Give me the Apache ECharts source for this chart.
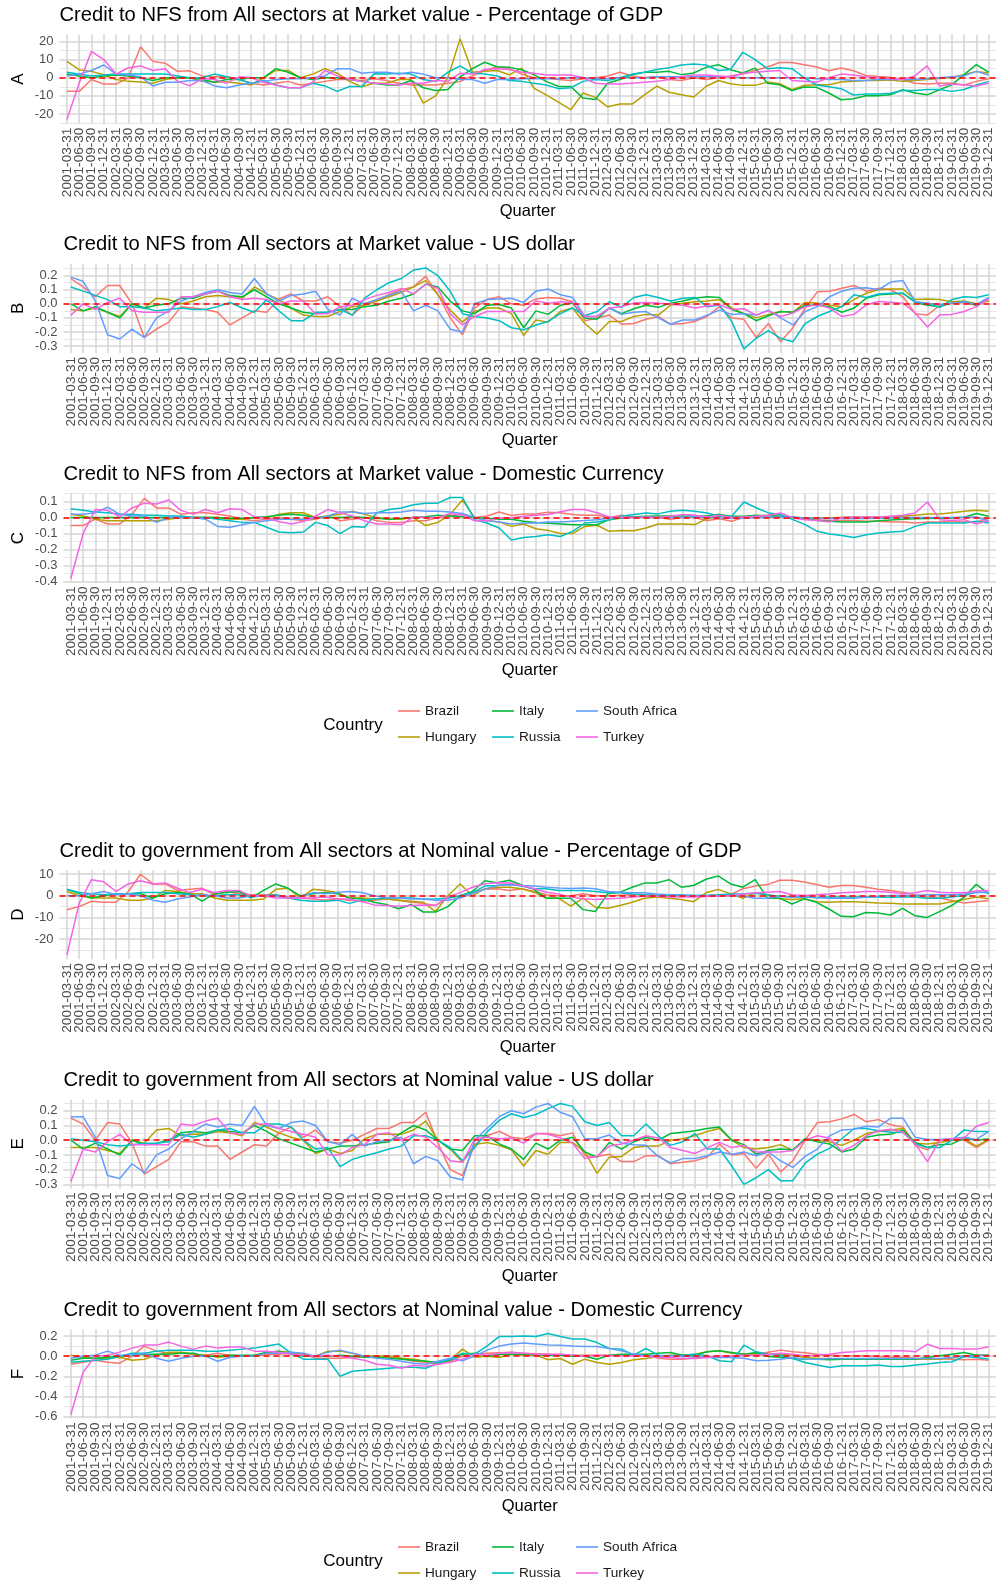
<!DOCTYPE html>
<html>
<head>
<meta charset="utf-8">
<script src="https://cdn.jsdelivr.net/npm/echarts@6/dist/echarts.min.js"></script>
<style>
  html, body { margin: 0; padding: 0; background: #fff; }
  #chart { width: 997px; height: 1581px; }
</style>
</head>
<body>
<div id="chart"></div>
<script>
var countries = ['Brazil', 'Hungary', 'Italy', 'Russia', 'South Africa', 'Turkey'];
var colors = ['#F8766D', '#B79F00', '#00BA38', '#00BFC4', '#619CFF', '#F564E3'];

// quarter end dates, 2001Q1 .. 2019Q4
var quarters = [];
for (var yr = 2001; yr <= 2019; yr++) {
    ['03-31', '06-30', '09-30', '12-31'].forEach(function (d) { quarters.push(yr + '-' + d); });
}

// A: credit to NFS, market value, % of GDP
var brazilA = [-7.5,-7.5,-1,-3.5,-3.5,0,17,9,8,3.5, 3.8,1,0.5,0.5,-1,-3,-4,-3,-2,-4, -3,-2,-1,-1,-1.5,-0.5,-1.5,-3,-4,-4, -4,-3,-2,1,4,6,5,2,0,0, -1,-1.5,-0.5,0,1,3,1,0,0.5,-1, -1.5,0,-1,0,1,2,4,5.9,8.4,8.4, 7.2,5.9,3.8,5.3,3.8,1.3,0.7,0.2,-1.1,-3, -3.5,-3,-3,-4,-2,-0.5];
var hungaryA = [9,4.4,3.5,1.6,-1,-2,-2.4,-3,-1,0, 0,-2,-2.4,-2.4,-3,-4,0,4,4,0, 2,5,2.5,-2,-5,-3,-3,-1,-1,-14, -10,0,21.5,3,3.5,4,1.6,5.3,-5.7,-9.4, -13.4,-17.6,-8.4,-10.8,-16,-14.5,-14.5,-9.4,-4.6,-8, -9.4,-10.6,-4.8,-1.5,-3.3,-4.2,-4.2,-2.4,-3.3,-6.6, -4.2,-3.9,-3.9,-2.4,-2,-1.5,-1.5,-1.3,-2,-1.5, -1,-0.4,0.2,1.7,3.5,2.6];
var italyA = [2,1,0,1,1.5,1,0,-1.5,0,0, 0,-1,-2.5,-1,-1,0,0,5,3,0, -1,0,0,-1,-2,-3,-4,-4,-1.5,-5.5, -7,-6.5,0.5,5,8.5,6,5.7,4.4,1.7,-2, -4.8,-4.8,-11.2,-12,-3,-1,1.7,3,3,3.5, 1.7,2.6,5.7,7.2,4.4,2.6,5.3,-3,-3.9,-7, -5.1,-5.3,-8.4,-12.1,-11.6,-9.9,-9.9,-9.4,-6.6,-8.4, -9.4,-6.6,-3.9,1.7,7.2,3.1];
var russiaA = [3,2,1,1.5,2,2,2,2,2,1, 0,0,2,0.5,-1,-3,-1.5,-4,-5.5,-5.5, -3,-4.5,-7.5,-4.8,-4.8,2.2,2,2.5,2,-1, -2,3,6.5,2.5,2,1,-1.5,-2,-3,-4, -6,-5.5,-2,-1,-1.5,0,2,3,4.5,5.5, 7,7.5,7,4,4.5,14,10,5,5.5,5, 0,-4,-5,-6,-9.5,-9,-9,-8.5,-7,-7, -6.5,-6.5,-7.5,-6.5,-4,-2];
var southAfricaA = [1,2,4,7,2,1.5,0.5,-4.5,-2.5,-2.5, -1.5,-1.5,-4.5,-5.5,-4,-3,-2,-1,-0.5,-0.5, 0,1,5,5,2.5,3,3,2,3,2, 0,0,-1,-1,-3,-1,-1,-0.5,-0.5,-0.5, -0.5,0,0,-0.5,-0.5,0,0,0,0.5,0.5, 0.5,0.5,0.5,0.5,0.5,0,0,0,0,0, 0,-0.5,-1,-1,-1.5,-1.5,-1,-1,-1,-1, -0.5,0,0.5,1,3.5,1.5];
var turkeyA = [-23,-3,14.5,10,2,5.5,6.5,4,5,-2, -4.5,-0.5,-1,-3,0.5,0,-2.5,-4,-5.5,-5.5, -2.5,4,1,-1,-2,-3,-3.5,-4,-3,-3, -1.5,-2,2.5,2,4.5,5,4.5,3,2.5,1.5, 1.5,1.5,0,-3,-3.5,-3.5,-3,-2.5,-2,-1, 0.5,1.5,1.5,1,0.5,2.5,3,3.5,4,-1.5, -2,-2.5,0,2,1.5,0.5,0,-0.5,-1,1, 6.5,-4.5,-3.5,-4,-4.5,-3];

// B: credit to NFS, market value, US dollar
var brazilB = [0.18,0.12,0.05,0.13,0.13,0,-0.24,-0.18,-0.13,-0.02, -0.03,-0.04,-0.06,-0.15,-0.1,-0.05,-0.06,0.035,0.07,0.02, 0.02,0.05,-0.02,-0.08,0,0.03,0.065,0.1,0.12,0.195, 0.065,-0.1,-0.22,-0.03,0.03,0.05,0,-0.01,0.035,0.045, 0.04,0.015,-0.12,-0.1,-0.08,-0.145,-0.14,-0.11,-0.09,-0.145, -0.14,-0.125,-0.09,-0.02,-0.1,-0.11,-0.24,-0.14,-0.27,-0.17, -0.03,0.085,0.09,0.11,0.13,0.09,0.11,0.1,0.05,-0.07, -0.08,-0.01,0.005,0.01,-0.01,0.03];
var hungaryB = [-0.04,-0.05,-0.03,-0.06,-0.09,0,-0.03,0.04,0.03,0, 0.02,0.05,0.06,0.05,0.04,0.12,0.07,0.03,-0.03,-0.08, -0.09,-0.09,-0.055,-0.02,-0.01,0.02,0.05,0.08,0.12,0.165, 0.065,-0.045,-0.13,-0.055,-0.03,-0.03,-0.07,-0.225,-0.115,-0.13, -0.055,-0.03,-0.14,-0.215,-0.125,-0.125,-0.09,-0.075,-0.08,-0.01, 0.005,0.015,0.02,0.03,-0.03,-0.07,-0.1,-0.075,-0.055,-0.06, 0.01,0.005,-0.01,-0.02,0.03,0.075,0.1,0.105,0.105,0.03, 0.035,0.03,0.015,0.02,0,0.02];
var italyB = [0,-0.05,-0.02,-0.06,-0.1,0,-0.03,-0.01,0,0.04, 0.04,0.07,0.09,0.06,0.05,0.1,0.05,0,-0.03,-0.06, -0.07,-0.06,-0.04,-0.04,-0.02,-0.01,0.02,0.04,0.07,0.14, 0.12,0.02,-0.05,-0.07,-0.01,-0.005,-0.03,-0.17,-0.05,-0.075, -0.01,0.005,-0.1,-0.11,-0.03,-0.07,-0.035,-0.01,-0.025,0.005, 0.02,0.04,0.05,0.045,-0.04,-0.07,-0.12,-0.085,-0.055,-0.06, -0.01,-0.01,-0.02,-0.06,-0.03,0.04,0.065,0.07,0.075,0.01, -0.01,-0.02,0.005,0.015,-0.01,0.04];
var russiaB = [0.12,0.09,0.06,0.03,-0.02,-0.02,-0.03,-0.05,-0.04,-0.03, -0.04,-0.04,-0.02,0.01,-0.03,-0.06,0.03,-0.05,-0.12,-0.12, -0.06,-0.06,-0.04,-0.08,0.04,0.1,0.15,0.18,0.24,0.255, 0.2,0.09,-0.07,-0.09,-0.1,-0.12,-0.17,-0.185,-0.15,-0.125, -0.07,-0.03,-0.085,-0.055,0.015,-0.025,0.045,0.065,0.045,0.02, 0.04,0.045,-0.02,-0.01,-0.125,-0.32,-0.245,-0.19,-0.245,-0.27, -0.14,-0.09,-0.055,-0.02,0.065,0.045,0.07,0.075,0.075,0.015, 0,-0.025,0.03,0.05,0.045,0.065];
var southAfricaB = [0.19,0.16,0.02,-0.22,-0.25,-0.18,-0.24,-0.1,-0.05,0.02, 0.05,0.08,0.1,0.08,0.07,0.18,0.07,0.02,0.06,0.07, 0.09,-0.04,-0.08,0.04,0,0.03,0.06,0.09,-0.05,-0.01, -0.05,-0.18,-0.2,0,0.03,0.035,0.04,0.01,0.09,0.105, 0.065,0.045,-0.09,-0.09,-0.03,-0.075,-0.06,-0.055,-0.1,-0.145, -0.115,-0.115,-0.08,-0.045,-0.075,-0.07,-0.08,-0.045,-0.1,-0.15, -0.055,-0.02,0.05,0.09,0.11,0.115,0.1,0.155,0.165,0.015, 0.005,-0.005,0.005,0.015,-0.005,0.045];
var turkeyB = [-0.08,0,-0.04,0.01,0.04,-0.05,-0.06,-0.06,-0.06,0.05, 0.05,0.07,0.09,0.05,0.03,0.04,0.03,0,0.02,0.02, -0.07,-0.07,-0.02,-0.01,0.03,0.06,0.08,0.11,0.07,0.14, 0.11,-0.07,-0.15,-0.09,-0.055,-0.055,-0.055,-0.055,0.02,0.005, 0.015,0.01,-0.09,-0.09,-0.03,-0.02,0.005,0.01,0.005,-0.002, -0.01,-0.03,-0.015,-0.007,-0.04,-0.035,-0.08,-0.05,-0.09,-0.065, -0.02,-0.007,-0.03,-0.09,-0.075,-0.007,0.017,0.012,0.005,-0.065, -0.165,-0.08,-0.075,-0.055,-0.02,0.035];

// C: credit to NFS, market value, domestic currency
var brazilC = [-0.05,-0.05,-0.01,-0.04,-0.04,0.02,0.12,0.06,0.06,0.02, 0.03,0.03,0.02,0.01,-0.01,-0.02,-0.01,0,-0.01,-0.02, -0.01,0.01,-0.02,-0.01,0,-0.02,-0.03,-0.03,-0.02,-0.02, 0,0.01,0.02,0,0.01,0.035,0.013,0.023,0.023,0.033, 0.03,0.019,0.015,0.015,0,0.015,0.004,0.004,0,-0.01, 0,0,-0.019,-0.008,-0.023,0.002,0.008,0.015,0.008,0.002, -0.008,-0.013,-0.019,-0.019,-0.019,-0.023,-0.023,-0.027,-0.027,-0.034, -0.027,-0.027,-0.023,-0.027,-0.027,-0.006];
var hungaryC = [0.02,0.01,-0.01,-0.02,-0.02,-0.02,-0.02,-0.02,-0.01,0, 0,0,0,-0.01,-0.01,0,0,0.02,0.03,0.03, 0,0.01,0.02,0.04,0.02,0,-0.01,-0.01,0,-0.05, -0.03,0.02,0.11,0,-0.019,-0.027,-0.055,-0.04,-0.07,-0.08, -0.1,-0.1,-0.055,-0.048,-0.086,-0.08,-0.082,-0.065,-0.04,-0.04, -0.04,-0.044,-0.006,0.008,0.004,0.004,0.004,0.002,0.004,-0.002, -0.002,-0.002,-0.002,0.002,0.004,0.004,0.004,0.006,0.008,0.015, 0.023,0.023,0.03,0.04,0.046,0.04];
var italyC = [0,0,0,0,0,0,0,0,0,0, 0,0,0,-0.005,-0.005,0,0.005,0.015,0.02,0.015, 0,0,0,0.005,0,-0.005,-0.01,-0.005,0,0.005, 0.015,0.01,0.005,0,-0.005,-0.01,-0.01,-0.023,-0.03,-0.035, -0.04,-0.045,-0.045,-0.045,-0.013,-0.002,0.005,0.008,0.01,0.01, 0.01,0.01,0.01,0.02,0.008,0.008,0.015,0.012,0.008,0.004, -0.004,-0.019,-0.023,-0.027,-0.027,-0.027,-0.02,-0.015,-0.01,-0.008, -0.006,-0.004,-0.002,0.002,0.025,0.008];
var russiaC = [0.055,0.045,0.035,0.03,0.02,0.02,0.015,0.015,0.01,0.01, 0,0,-0.01,-0.02,-0.03,-0.03,-0.06,-0.09,-0.095,-0.09, -0.03,-0.05,-0.1,-0.055,-0.06,0.03,0.05,0.06,0.08,0.09, 0.09,0.125,0.125,-0.013,-0.034,-0.065,-0.14,-0.125,-0.118,-0.107, -0.118,-0.086,-0.034,-0.027,-0.013,0.008,0.019,0.029,0.023,0.04, 0.046,0.04,0.029,0.008,0.008,0.097,0.061,0.029,0.019,-0.013, -0.044,-0.086,-0.103,-0.112,-0.125,-0.107,-0.097,-0.09,-0.086,-0.055, -0.034,-0.034,-0.034,-0.034,-0.023,-0.034];
var southAfricaC = [0.02,0.02,0.03,0.065,0.02,0.01,0.01,-0.03,0,0, 0,-0.01,-0.055,-0.06,-0.045,-0.03,-0.02,-0.01,-0.01,-0.01, -0.005,0.01,0.035,0.035,0.025,0.03,0.03,0.035,0.045,0.04, 0.04,0.035,0.025,0,-0.02,-0.027,-0.04,-0.034,-0.034,-0.027, -0.027,-0.023,-0.019,-0.013,-0.002,0,0,0,0,0, 0.002,0.004,0.002,-0.002,-0.004,-0.002,0,0.002,0.004,0.002, -0.002,-0.004,-0.006,-0.006,-0.004,-0.006,-0.004,-0.002,0,0, 0,0,0,0.002,0.004,-0.023];
var turkeyC = [-0.38,-0.1,0.05,0.045,0.005,0.06,0.09,0.085,0.11,0.045, 0.02,0.05,0.03,0.055,0.05,0.005,-0.005,-0.025,-0.04,-0.025, 0.01,0.05,0.03,0.01,-0.02,-0.04,-0.04,-0.045,0.005,0, 0,0.025,0.015,-0.02,-0.02,-0.002,-0.002,0.008,0.015,0.019, 0.036,0.05,0.05,0.03,0.004,0,0,0.004,0,0.008, 0.019,0.015,0.004,0.015,0,0.004,0.008,0.015,0.029,-0.002, -0.013,-0.019,-0.027,0,0.004,0.004,0.004,0.008,0.015,0.029, 0.097,-0.013,-0.019,-0.013,-0.04,-0.019];

// D: credit to government, nominal value, % of GDP
var brazilD = [-6.5,-5,-2.5,-3,-3,2,10,5.5,5.5,2.5, 3,3.5,0.5,2,1,0.5,0.5,0.5,-0.5,-1, -1.5,-2,-1.5,-2,-2.5,-2,-1.5,-2,-3,-3.5, -4.5,-1,0,1.5,3,3.3,2.5,3.3,2,0.5, 0,0,1,0,0,0.3,0.5,0.5,0.3,0.2, 0,-0.2,0,0.3,0.5,3.3,4.5,5.2,7.2,7.2, 6.4,5.2,4,4.8,4.8,4,3,2.5,1.7,0.5, -0.6,-1,-2.2,-3.3,-2.7,-2.2];
var hungaryD = [2,0,-1,-1,-1,-2,-2,-1,2.5,2, 1,1,-1,-2,-2,-2,-1.5,3,3.5,-1, 3,2.5,1.5,-1,-1,-1.5,-1.5,-2,-2.5,-3, -7.3,0,5.5,0,3.3,4,4,3.3,1.7,-1.1, -1.1,-4.8,-1.1,-5.3,-5.8,-4.5,-3,-1.1,-0.6,-1.1, -1.7,-2.7,1.4,3,0.9,-1.1,1.4,0.5,-1.4,-1.7, -1.4,-2.7,-3,-2.7,-2.7,-3,-3.3,-3.4,-3.8,-3.8, -3.8,-3.8,-2.7,-1.7,-0.6,-1.4];
var italyD = [3,1,-1,0,1,1,1,-1,1,1.5, 1,-2.5,1,1.5,2,-1,2.5,5.5,3.5,0, 1,1.5,1,-1,-1.5,-3,-4,-6,-4,-7.5, -7.5,-5,0,2,7,6.1,7.2,5,3,-1.1, -1.1,-1.1,-6.4,-7.3,0.9,1.7,4,5.9,5.9,7.5, 4,4.8,7.7,9.2,5.5,4,7.5,-1.1,-1.1,-3.8, -1.4,-3,-6.1,-9.5,-9.7,-7.7,-8,-8.9,-5.8,-9.2, -10,-7.3,-4.5,-0.6,5.3,0.9];
var russiaD = [3,1.5,1,0.5,1,1,1.5,1.5,1.5,1, 0.5,0,0,0.5,0.5,-0.5,0,0.5,-1,-2, -2.5,-2.5,-2,-3.5,-2,-1.5,-1,-1,-1,-1.5, -1.5,-1,0,1.5,4.5,4.8,5.2,4.5,3.3,3.3, 2.5,2.5,2.5,2,1.4,1.4,0.9,0.5,0.2,0.2, 0.2,0.2,0.2,0.5,0.9,0.9,1.2,0.5,-0.2,-0.5, -0.6,-0.8,-0.6,-0.6,-0.5,-0.6,-0.6,-0.7,-0.6,-0.6, -1.1,-1.1,-0.6,0.2,1.7,1.4];
var southAfricaD = [0,0,1,2,0.5,1,0,-2,-3,-1.5, -0.5,0.5,0,-1,-1,0,0,0,-1,-0.5, 1.5,1,1.5,2,1.5,0,-1,-1,-1.5,-1.5, -2,-2,-1,1,3,4.8,5.2,4.8,4.5,4, 3.6,3.4,3.6,3.3,2,1.7,1.4,1.4,0.9,0.5, 0.5,0.2,0.2,0,0.2,-0.2,-1.1,-1.1,-0.2,-0.6, -0.6,-0.9,-1.1,-1.1,-1.1,-0.5,-0.2,0.2,0.2,0.2, 0.5,0.5,0.5,0.9,1.7,1.7];
var turkeyD = [-27.5,-3.5,7.5,6.5,2,5.5,7,5.5,6,3.5, 1.5,3,1.5,2.5,2.5,0,0,-1,-1,-1, -1,-0.5,-1.5,-1.5,-2.7,-4.2,-4.5,-4.8,-4.5,-4.2, -4.5,-0.5,1.5,4,5.6,6.1,5.9,4.8,3.3,1.7, 0.9,-0.6,-1.4,-1.7,-1.4,-1.1,-0.6,-0.2,-0.2,-0.6, -0.6,-0.5,-0.3,-0.2,0.2,0.9,1.4,1.7,2,0.5, 0.2,0.5,0.9,1.4,1.7,2,2,1.7,0.9,1.4, 2.5,1.7,1.4,1.4,2.2,2.5];

// E: credit to government, nominal value, US dollar
var brazilE = [0.15,0.11,0,0.12,0.11,-0.02,-0.23,-0.18,-0.13,-0.01, -0.01,-0.04,-0.04,-0.13,-0.08,-0.03,-0.04,0.05,0.09,0.02, 0.07,-0.01,-0.02,0,0.04,0.08,0.08,0.12,0.12,0.19, -0.02,-0.2,-0.24,-0.03,0.03,0.06,0.02,0.01,0.045,0.045, 0.03,0.05,-0.105,-0.11,-0.095,-0.145,-0.145,-0.105,-0.105,-0.16, -0.15,-0.14,-0.115,-0.025,-0.1,-0.09,-0.19,-0.095,-0.215,-0.14, 0,0.12,0.125,0.145,0.175,0.125,0.14,0.105,0.09,-0.035, -0.065,0,0,0,-0.05,0];
var hungaryE = [-0.05,-0.05,-0.05,-0.07,-0.09,0,-0.02,0.07,0.08,0.03, 0.04,0.04,0.06,0.05,0.03,0.12,0.09,0.05,0.02,0, -0.09,-0.06,-0.09,-0.07,0.01,0.04,0.04,0.04,0.07,0.13, 0,-0.06,-0.15,-0.03,-0.015,-0.035,-0.065,-0.175,-0.07,-0.095, -0.015,-0.015,-0.08,-0.225,-0.115,-0.11,-0.05,-0.04,-0.04,0, 0.01,0.03,0.06,0.08,0,-0.05,-0.06,-0.05,-0.03,-0.07, 0.01,0,-0.01,-0.035,0,0.045,0.06,0.07,0.08,-0.02, -0.025,-0.015,0,0.01,-0.04,0.005];
var italyE = [0,-0.06,-0.02,-0.06,-0.1,0,-0.03,-0.02,0,0.05, 0.06,0.05,0.07,0.06,0.05,0.1,0.06,0.01,-0.02,-0.05, -0.08,-0.06,-0.04,-0.04,-0.03,-0.02,-0.01,0.05,0.1,0.07, 0,-0.06,-0.07,0.03,0.03,-0.025,-0.06,-0.13,-0.02,-0.06, 0,0.02,-0.08,-0.115,-0.015,-0.06,-0.01,0.02,0,0.045, 0.055,0.065,0.08,0.09,0,-0.03,-0.095,-0.07,-0.06,-0.065, 0.01,-0.01,-0.025,-0.08,-0.06,0.02,0.035,0.04,0.07,-0.015, -0.05,-0.03,-0.025,0.015,0,0.01];
var russiaE = [0.01,0,-0.01,-0.03,-0.04,-0.03,-0.02,-0.02,-0.01,0.04, 0.02,0.04,0.07,0.08,0.05,0.05,0.11,0.11,0.09,0, -0.06,-0.05,-0.18,-0.13,-0.105,-0.085,-0.06,-0.04,0.03,0.03, 0,-0.05,-0.14,-0.05,0.055,0.135,0.18,0.155,0.175,0.215, 0.25,0.23,0.125,0.1,0.12,0.03,0.03,0.11,0.03,-0.035, -0.01,0.045,-0.06,-0.06,-0.175,-0.3,-0.255,-0.2,-0.275,-0.275, -0.155,-0.095,-0.055,0.01,0.08,0.08,0.065,0.055,0.055,-0.025, -0.05,-0.05,0,0.07,0.06,0.06];
var southAfricaE = [0.16,0.16,0.02,-0.24,-0.26,-0.16,-0.22,-0.1,-0.06,0.01, 0.06,0.11,0.09,0.11,0.1,0.23,0.1,0.08,0.12,0.13, 0.1,-0.01,-0.03,0.04,-0.04,-0.01,0,0.02,-0.16,-0.11, -0.14,-0.25,-0.27,0,0.08,0.16,0.2,0.18,0.225,0.25, 0.19,0.16,0.01,0.01,0.035,-0.02,-0.03,-0.035,-0.11,-0.155, -0.125,-0.125,-0.105,-0.08,-0.095,-0.08,-0.105,-0.08,-0.14,-0.185, -0.11,-0.06,0.03,0.07,0.075,0.095,0.09,0.15,0.15,0.02, 0.005,0.005,0.01,0.02,0.005,0.06];
var turkeyE = [-0.28,-0.06,-0.08,-0.01,0.04,-0.03,-0.03,-0.03,-0.03,0.11, 0.1,0.13,0.15,0.05,0.04,0.11,0.11,0.08,0.06,0.04, 0.02,-0.1,-0.1,-0.05,-0.03,0.04,0.05,0,0.04,0.02, -0.05,-0.14,-0.15,0.01,0.02,0.01,0.015,-0.02,0.045,0.04, 0.015,-0.02,-0.125,-0.11,-0.04,-0.025,0,0.03,0.015,-0.05, -0.07,-0.09,-0.05,-0.015,-0.05,-0.035,-0.08,-0.08,-0.08,-0.07, 0,0.03,0.015,-0.075,-0.035,0.03,0.065,0.075,0.055,-0.025, -0.145,0,0.01,0.015,0.095,0.12];

// F: credit to government, nominal value, domestic currency
var brazilF = [-0.08,-0.06,-0.04,-0.06,-0.07,0,0.1,0.05,0.03,0.03, 0.02,0.01,0.03,0.01,0,0,0.02,0.02,0.03,0.02, -0.02,-0.02,-0.02,-0.01,0,0,-0.01,-0.02,-0.05,-0.06, -0.08,-0.05,0,0.02,0.03,0.035,0.04,0.03,0.025,0.02, 0.015,0.01,0.01,0.01,0.01,0.01,0.01,0.01,-0.02,-0.03, -0.03,-0.015,-0.01,-0.005,0,0.01,0.02,0.04,0.06,0.045, 0.035,0.02,0.01,0.005,0.003,0,-0.005,-0.01,-0.01,-0.02, -0.025,-0.025,-0.03,-0.035,-0.03,-0.04];
var hungaryF = [0.01,-0.01,-0.02,-0.02,-0.01,-0.04,-0.03,0.01,0.04,0.04, 0.02,0.01,-0.01,0,0,0,0.03,0.05,0.04,0.02, 0,0.05,0.05,0.03,0,0,0,-0.02,-0.03,-0.05, -0.07,-0.04,0.07,-0.01,0,-0.013,0.02,0.01,0.01,-0.036, -0.023,-0.08,-0.03,-0.063,-0.08,-0.063,-0.036,-0.023,-0.003,0.01, 0.01,0.02,0.043,0.053,0.03,0.025,0.025,0.02,0.02,0.01, -0.013,-0.023,-0.023,-0.03,-0.03,-0.03,-0.03,-0.03,-0.03,-0.03, -0.03,-0.03,-0.015,0.003,0.01,0.01];
var italyF = [-0.04,-0.02,-0.02,-0.01,0,0.01,0.02,0.02,0.02,0.03, 0.03,0,0,0.01,0.01,0.01,0.04,0.05,0.02,0, 0,0,0.01,0,-0.01,-0.01,-0.02,-0.03,-0.04,-0.05, -0.06,-0.04,0.02,0.03,0,0.02,0.02,0.02,0.015,0.01, 0.01,0,0,-0.03,0.01,0.02,0.02,0.02,0.03,0.036, 0.01,0.01,0.043,0.053,0.036,0.02,0.036,-0.003,-0.01,-0.023, -0.03,-0.03,-0.036,-0.03,-0.03,-0.03,-0.03,-0.03,-0.03,-0.03, -0.013,0.003,0.02,0.036,0.01,0.01];
var russiaF = [-0.06,-0.05,-0.04,-0.03,0,0.03,0.03,0.05,0.06,0.06, 0.06,0.05,0.05,0.06,0.07,0.08,0.1,0.12,0.03,-0.03, -0.03,-0.03,-0.2,-0.15,-0.14,-0.13,-0.12,-0.11,-0.11,-0.12, -0.07,-0.03,0.03,0.02,0.1,0.195,0.195,0.2,0.195,0.225, 0.195,0.17,0.17,0.135,0.076,0.07,0.01,0.076,0.01,0.003, 0.01,0.02,0.003,-0.046,-0.056,0.109,0.043,0.02,0.01,-0.023, -0.063,-0.089,-0.112,-0.096,-0.096,-0.096,-0.089,-0.102,-0.102,-0.089, -0.079,-0.063,-0.056,-0.003,-0.013,-0.03];
var southAfricaF = [-0.02,0,0.01,0.05,0.01,0.01,0.03,-0.02,-0.05,-0.02, 0,0,-0.05,-0.01,0,0,0.03,0.03,0.04,0.03, 0,0.04,0.06,0.03,0,-0.02,-0.03,-0.05,-0.07,-0.08, -0.05,-0.02,-0.046,0,0.06,0.1,0.12,0.13,0.12,0.11, 0.109,0.102,0.096,0.096,0.076,0.053,0.02,0.003,0.003,0.003, -0.003,-0.003,-0.013,-0.013,-0.013,-0.02,-0.046,-0.04,-0.03,-0.013, -0.03,-0.03,-0.023,-0.023,-0.023,-0.023,-0.023,-0.023,-0.023,-0.023, -0.023,-0.023,-0.013,0.003,0.003,0.01];
var turkeyF = [-0.58,-0.16,0,0.01,0.04,0.08,0.11,0.11,0.14,0.1, 0.07,0.1,0.08,0.09,0.09,0.05,0.05,0.04,0.02,0.01, 0,0.01,0,-0.02,-0.04,-0.08,-0.09,-0.12,-0.09,-0.1, -0.08,-0.06,-0.03,0.02,0.01,0.03,0.036,0.03,0.02,0.02, 0.02,0.01,0,0.01,0.003,0.003,0.003,0,-0.013,-0.013, -0.023,-0.023,-0.013,0,0.003,0.01,0.01,0.02,0.03,0.02, 0.003,0.01,0.02,0.036,0.043,0.053,0.053,0.053,0.053,0.043, 0.12,0.076,0.076,0.07,0.07,0.093];

// y tick labels per panel
var ticksA = [-20, -10, 0, 10, 20];
var ticksB = [-0.3, -0.2, -0.1, 0, 0.1, 0.2];
var ticksC = [-0.4, -0.3, -0.2, -0.1, 0, 0.1];
var ticksD = [-20, -10, 0, 10];
var ticksE = [-0.3, -0.2, -0.1, 0, 0.1, 0.2];
var ticksF = [-0.6, -0.4, -0.2, 0, 0.2];

var nfs = 'Credit to NFS from All sectors at Market value - ';
var gov = 'Credit to government from All sectors at Nominal value - ';

var panels = [
    { letter: 'A', title: nfs + 'Percentage of GDP', series: [brazilA, hungaryA, italyA, russiaA, southAfricaA, turkeyA], ticks: ticksA, digits: 0, left: 59.5, top: 34.6 },
    { letter: 'B', title: nfs + 'US dollar', series: [brazilB, hungaryB, italyB, russiaB, southAfricaB, turkeyB], ticks: ticksB, digits: 1, left: 63.5, top: 263.9 },
    { letter: 'C', title: nfs + 'Domestic Currency', series: [brazilC, hungaryC, italyC, russiaC, southAfricaC, turkeyC], ticks: ticksC, digits: 1, left: 63.5, top: 493.5 },
    { letter: 'D', title: gov + 'Percentage of GDP', series: [brazilD, hungaryD, italyD, russiaD, southAfricaD, turkeyD], ticks: ticksD, digits: 0, left: 59.5, top: 870.2 },
    { letter: 'E', title: gov + 'US dollar', series: [brazilE, hungaryE, italyE, russiaE, southAfricaE, turkeyE], ticks: ticksE, digits: 1, left: 63.5, top: 1099.4 },
    { letter: 'F', title: gov + 'Domestic Currency', series: [brazilF, hungaryF, italyF, russiaF, southAfricaF, turkeyF], ticks: ticksF, digits: 1, left: 63.5, top: 1329.5 }
];

var FONT = '"Liberation Sans", Arial, Helvetica, sans-serif';
var PANEL_H = 89;
var RIGHT = 996;
var GRID_MAJOR = '#D4D4D4';
var GRID_MINOR = '#E3E3E3';
var TICK_COLOR = '#4D4D4D';

// ggplot-style 5% expansion of the data range
function yRange(list) {
    var lo = Infinity, hi = -Infinity;
    list.forEach(function (s) {
        s.forEach(function (v) { lo = Math.min(lo, v); hi = Math.max(hi, v); });
    });
    var pad = (hi - lo) * 0.05;
    return [lo - pad, hi + pad];
}

function minorTicks(ticks, range) {
    var step = ticks[1] - ticks[0], out = [];
    for (var i = -1; i < ticks.length; i++) {
        var m = ticks[0] + step * (i + 0.5);
        if (m > range[0] && m < range[1]) out.push(m);
    }
    return out;
}

var qIndex = quarters.map(function (q, i) { return i; });
// blank guard labels at both ends so the min/max overlap check drops only them
var qLabelPos = [-0.5].concat(qIndex, [qIndex.length - 0.5]);

var grids = [], xAxes = [], yAxes = [], series = [], graphics = [], legends = [];

panels.forEach(function (p, k) {
    var range = yRange(p.series);
    var minors = minorTicks(p.ticks, range);
    var bottom = p.top + PANEL_H;

    grids.push({ left: p.left, top: p.top, width: RIGHT - p.left, height: PANEL_H, containLabel: false, outerBoundsMode: 'none' });

    xAxes.push({
        gridIndex: k, type: 'value', min: -0.6, max: 75.6,
        axisLine: { show: false },
        axisTick: { show: false, customValues: qIndex },
        axisLabel: {
            customValues: qLabelPos, rotate: 90, margin: 4, fontSize: 13.6, color: TICK_COLOR, fontFamily: FONT,
            showMinLabel: false, showMaxLabel: false, hideOverlap: false,
            formatter: function (v) { return v % 1 === 0 ? quarters[v] : ''; }
        },
        splitLine: { show: true, lineStyle: { color: GRID_MAJOR, width: 1.5 } }
    });

    // minor horizontal lines
    yAxes.push({
        gridIndex: k, type: 'value', position: 'left', min: range[0], max: range[1],
        axisLine: { show: false },
        axisTick: { show: false, customValues: minors },
        axisLabel: { show: false },
        splitLine: { show: true, lineStyle: { color: GRID_MINOR, width: 0.9 } }
    });
    // major horizontal lines + labels
    yAxes.push({
        gridIndex: k, type: 'value', position: 'left', min: range[0], max: range[1],
        axisLine: { show: false },
        axisTick: { show: false, customValues: p.ticks },
        axisLabel: {
            customValues: p.ticks, margin: 6, fontSize: 13, color: TICK_COLOR, fontFamily: FONT,
            showMinLabel: true, showMaxLabel: true,
            formatter: function (v) { return v.toFixed(p.digits); }
        },
        splitLine: { show: true, lineStyle: { color: GRID_MAJOR, width: 1.5 } }
    });

    p.series.forEach(function (vals, j) {
        var s = {
            type: 'line', name: countries[j], xAxisIndex: k, yAxisIndex: 2 * k + 1,
            data: vals.map(function (v, i) { return [i, v]; }),
            symbol: 'none', silent: true, animation: false,
            lineStyle: { width: 1.5, color: colors[j] },
            itemStyle: { color: colors[j] }
        };
        if (j === p.series.length - 1) {
            s.markLine = {
                silent: true, symbol: 'none', animation: false,
                label: { show: false },
                lineStyle: { color: '#FF0000', type: [6, 4], width: 1.6 },
                data: [{ yAxis: 0 }]
            };
        }
        series.push(s);
    });

    graphics.push({
        type: 'text', x: p.left, y: p.top - 19,
        style: { text: p.title, fontSize: 20.2, fill: '#000', fontFamily: FONT, textAlign: 'left', textVerticalAlign: 'middle' }
    });
    graphics.push({
        type: 'text', x: 18, y: p.top + PANEL_H / 2, rotation: Math.PI / 2,
        style: { text: p.letter, fontSize: 17, fill: '#000', fontFamily: FONT, textAlign: 'center', textVerticalAlign: 'middle' }
    });
    graphics.push({
        type: 'text', x: (p.left + RIGHT) / 2, y: bottom + 88,
        style: { text: 'Quarter', fontSize: 16.5, fill: '#000', fontFamily: FONT, textAlign: 'center', textVerticalAlign: 'middle' }
    });
});

// two legends, one under each group of three panels
[panels[2].top + PANEL_H, panels[5].top + PANEL_H].forEach(function (b) {
    var row1 = b + 129.5, row2 = b + 155.5;
    graphics.push({
        type: 'text', x: 353, y: (row1 + row2) / 2,
        style: { text: 'Country', fontSize: 17, fill: '#000', fontFamily: FONT, textAlign: 'center', textVerticalAlign: 'middle' }
    });
    var colX = [398, 492, 576];
    countries.forEach(function (c, j) {
        legends.push({
            data: [c], left: colX[Math.floor(j / 2)], top: (j % 2 === 0 ? row1 : row2) - 8,
            padding: 0, icon: 'rect', itemWidth: 22, itemHeight: 1.6, selectedMode: false,
            textStyle: { fontSize: 13.6, color: '#1A1A1A', fontFamily: FONT }
        });
    });
});

var chart = echarts.init(document.getElementById('chart'));
chart.setOption({
    backgroundColor: '#FFFFFF',
    animation: false,
    grid: grids,
    xAxis: xAxes,
    yAxis: yAxes,
    legend: legends,
    series: series,
    graphic: graphics
});
</script>
</body>
</html>
